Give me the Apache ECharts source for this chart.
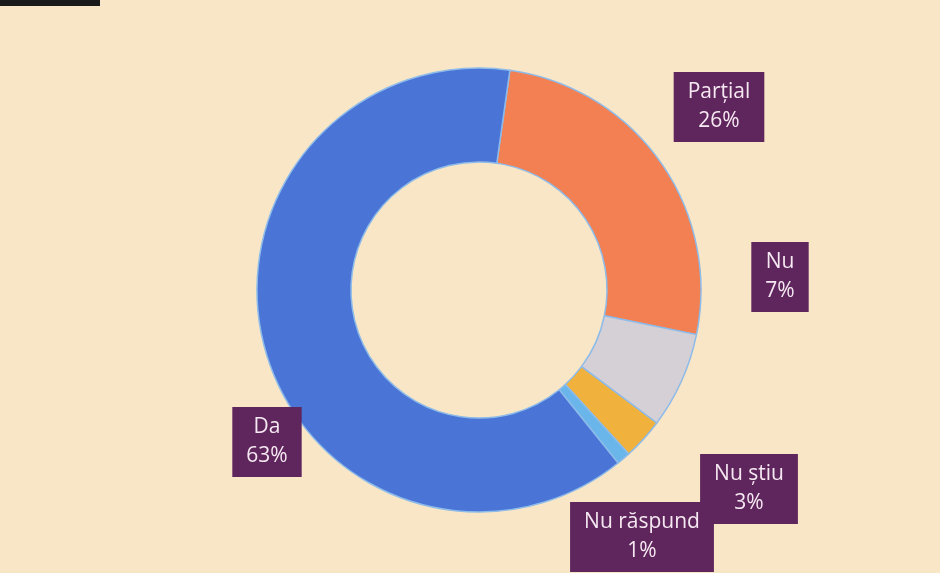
<!DOCTYPE html>
<html>
<head>
<meta charset="utf-8">
<script src="https://cdn.jsdelivr.net/npm/echarts@6/dist/echarts.min.js"></script>
<style>
html,body{margin:0;padding:0;background:#f9e6c6;}
#chart{width:940px;height:573px;}
</style>
</head>
<body>
<div id="chart"></div>
<script>
const categories = ['Parțial', 'Nu', 'Nu știu', 'Nu răspund', 'Da'];
const values = [26, 7, 3, 1, 63];
const colors = ['#f28052', '#d5cfd6', '#f0b23c', '#6ab6ea', '#4a74d6'];

const labelSpots = [[719, 107], [780, 277], [749, 489], [642, 537], [267, 442]];

const chart = echarts.init(document.getElementById('chart'));
chart.setOption({
  backgroundColor: '#f9e6c6',
  animation: false,
  graphic: [
    { type: 'rect', shape: { x: 0, y: 0, width: 100, height: 6 }, style: { fill: '#1a1a1a' } }
  ],
  series: [{
    type: 'pie',
    center: [479, 290],
    radius: [128, 222],
    startAngle: 82,
    clockwise: true,
    avoidLabelOverlap: false,
    data: categories.map((c, i) => ({ name: c, value: values[i], itemStyle: { color: colors[i] } })),
    itemStyle: { borderColor: '#8dbbea', borderWidth: 1.5 },
    labelLine: { show: false },
    label: {
      show: true,
      position: 'outside',
      formatter: p => p.name + '\n' + p.value + '%',
      backgroundColor: '#5e265c',
      color: '#f6e8f2',
      fontFamily: '"Open Sans", sans-serif',
      fontSize: 21,
      lineHeight: 29,
      padding: [6, 14],
      align: 'center'
    },
    labelLayout: p => ({
      x: labelSpots[p.dataIndex][0],
      y: labelSpots[p.dataIndex][1],
      align: 'center',
      verticalAlign: 'middle'
    }),
    emphasis: { disabled: true }
  }]
});
</script>
</body>
</html>
